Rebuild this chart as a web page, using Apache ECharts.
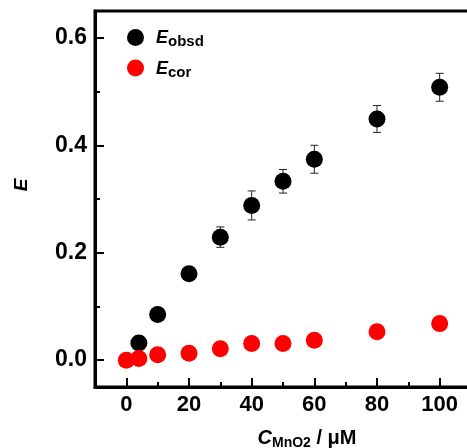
<!DOCTYPE html>
<html>
<head>
<meta charset="utf-8">
<script src="https://cdn.jsdelivr.net/npm/echarts@6/dist/echarts.min.js"></script>
<style>
  html, body { margin: 0; padding: 0; background: #fff; }
  #chart { width: 467px; height: 448px; }
</style>
</head>
<body>
<div id="chart"></div>
<script>
// concentrations (uM)
const obsdX = [4, 10, 20, 30, 40, 50, 60, 80, 100];
const obsdY = [0.032, 0.085, 0.161, 0.229, 0.288, 0.333, 0.374, 0.449, 0.508];
const obsdErr = [0.005, 0.006, 0.006, 0.019, 0.027, 0.022, 0.026, 0.025, 0.026];

const corX = [0, 4, 10, 20, 30, 40, 50, 60, 80, 100];
const corY = [0.0, 0.003, 0.010, 0.013, 0.021, 0.031, 0.031, 0.037, 0.053, 0.068];
const corErr = [0.003, 0.003, 0.004, 0.005, 0.012, 0.006, 0.005, 0.005, 0.006, 0.006];

const xTicks = [0, 20, 40, 60, 80, 100];
const xMinorTicks = [10, 30, 50, 70, 90];
const yTicks = [0, 0.2, 0.4, 0.6];
const yMinorTicks = [0.1, 0.3, 0.5];

const FONT = '"Liberation Sans", Arial, sans-serif';

const chart = echarts.init(document.getElementById('chart'), null, { renderer: 'canvas' });

function pairs(xs, ys, errs) {
  return xs.map((x, i) => [x, ys[i], errs[i]]);
}

function errorBars(params, api) {
  const x = api.value(0);
  const y = api.value(1);
  const e = api.value(2);
  const top = api.coord([x, y + e]);
  const bot = api.coord([x, y - e]);
  const cap = 4;
  const style = { stroke: '#222', lineWidth: 1 };
  return {
    type: 'group',
    children: [
      { type: 'line', shape: { x1: top[0], y1: top[1], x2: bot[0], y2: bot[1] }, style },
      { type: 'line', shape: { x1: top[0] - cap, y1: top[1], x2: top[0] + cap, y2: top[1] }, style },
      { type: 'line', shape: { x1: bot[0] - cap, y1: bot[1], x2: bot[0] + cap, y2: bot[1] }, style },
    ],
  };
}

const labelStyle = { color: '#000', fontFamily: FONT, fontWeight: 'bold', fontSize: 22 };

const option = {
  animation: false,
  backgroundColor: '#fff',
  grid: {
    left: 95, right: -4, top: 11, bottom: 61,
    outerBoundsMode: 'none',
    containLabel: false,
    show: true, borderColor: '#000', borderWidth: 3,
  },
  legend: {
    orient: 'vertical',
    left: 122, top: 24,
    itemWidth: 17, itemHeight: 17, itemGap: 10,
    icon: 'circle',
    data: ['Eobsd', 'Ecor'],
    formatter: (name) => name === 'Eobsd' ? '{e|E}{s|obsd}' : '{e|E}{s|cor}',
    textStyle: {
      rich: {
        e: { fontFamily: FONT, fontSize: 18, fontStyle: 'italic', fontWeight: 'bold', color: '#000', lineHeight: 20, padding: [0, 0, 0, 7], verticalAlign: 'bottom' },
        s: { fontFamily: FONT, fontSize: 15, fontWeight: 'bold', color: '#000', lineHeight: 15, verticalAlign: 'bottom', padding: [0, 0, -2, 0] },
      },
    },
  },
  xAxis: [
    {
      type: 'value', min: -10, max: 110, position: 'bottom',
      splitLine: { show: false },
      axisLine: { onZero: false, lineStyle: { color: '#000', width: 3 } },
      axisTick: { inside: true, length: 9, lineStyle: { color: '#000', width: 2 }, customValues: xTicks },
      axisLabel: Object.assign({ margin: 7, customValues: xTicks }, labelStyle),
      name: '{c|C}{s|MnO2}{t| / μM}',
      nameLocation: 'middle',
      nameGap: 39,
      nameTextStyle: {
        padding: [0, 0, 0, 48],
        rich: {
          c: { fontFamily: FONT, fontSize: 20, fontStyle: 'italic', fontWeight: 'bold', color: '#000', lineHeight: 22, verticalAlign: 'bottom' },
          s: { fontFamily: FONT, fontSize: 14, fontWeight: 'bold', color: '#000', lineHeight: 14, verticalAlign: 'bottom', padding: [0, 0, -2, 0] },
          t: { fontFamily: FONT, fontSize: 20, fontWeight: 'bold', color: '#000', lineHeight: 22, verticalAlign: 'bottom' },
        },
      },
    },
    {
      // minor ticks only
      type: 'value', min: -10, max: 110, position: 'bottom',
      splitLine: { show: false },
      axisLine: { show: false, onZero: false },
      axisTick: { show: true, inside: true, length: 5, lineStyle: { color: '#000', width: 2 }, customValues: xMinorTicks },
      axisLabel: { show: false },
    },
  ],
  yAxis: [
    {
      type: 'value', min: -0.05, max: 0.65,
      splitLine: { show: false },
      axisLine: { show: true, onZero: false, lineStyle: { color: '#000', width: 3 } },
      axisTick: { show: true, inside: true, length: 9, lineStyle: { color: '#000', width: 2 }, customValues: yTicks },
      axisLabel: Object.assign({ margin: 8, customValues: yTicks, formatter: (v) => v.toFixed(1) }, labelStyle, { fontSize: 23 }),
      name: 'E',
      nameLocation: 'middle',
      nameRotate: 90,
      nameGap: 64,
      nameTextStyle: {
        fontFamily: FONT, fontSize: 19, fontStyle: 'italic', fontWeight: 'bold', color: '#000',
        padding: [0, 0, 0, 28],
      },
    },
    {
      // minor ticks only
      type: 'value', min: -0.05, max: 0.65, position: 'left',
      splitLine: { show: false },
      axisLine: { show: false, onZero: false },
      axisTick: { show: true, inside: true, length: 5, lineStyle: { color: '#000', width: 2 }, customValues: yMinorTicks },
      axisLabel: { show: false },
    },
  ],
  series: [
    {
      name: 'obsdErr', type: 'custom', renderItem: errorBars,
      data: pairs(obsdX, obsdY, obsdErr), z: 1, silent: true,
    },
    {
      name: 'corErr', type: 'custom', renderItem: errorBars,
      data: pairs(corX, corY, corErr), z: 1, silent: true,
    },
    {
      name: 'Eobsd', type: 'scatter', symbolSize: 17,
      itemStyle: { color: '#000', opacity: 1 },
      data: obsdX.map((x, i) => [x, obsdY[i]]), z: 2,
    },
    {
      name: 'Ecor', type: 'scatter', symbolSize: 17,
      itemStyle: { color: '#ff0000', opacity: 1 },
      data: corX.map((x, i) => [x, corY[i]]), z: 3,
    },
  ],
};

chart.setOption(option);
</script>
</body>
</html>
